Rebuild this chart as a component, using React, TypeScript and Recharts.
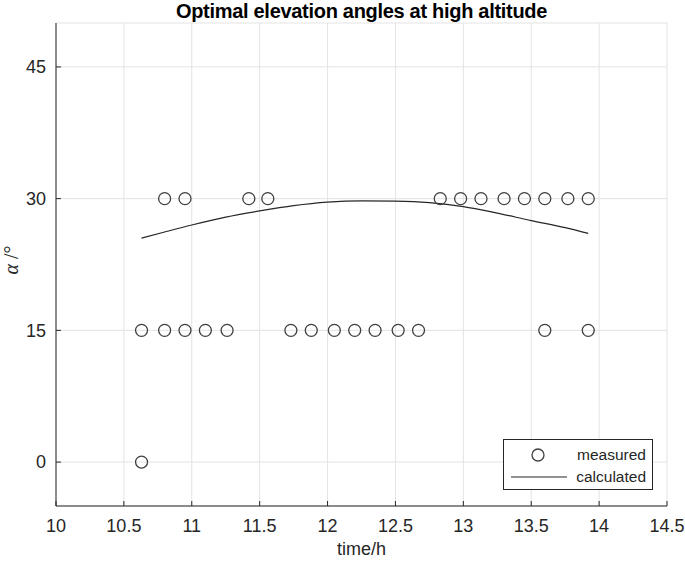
import React from 'react';
import {
  ComposedChart,
  Scatter,
  Line,
  XAxis,
  YAxis,
  CartesianGrid
} from 'recharts';

// measured optimal angles, grouped by angle level (time in hours)
const times30 = [10.8, 10.95, 11.42, 11.56, 12.83, 12.98, 13.13, 13.3, 13.45, 13.6, 13.77, 13.92];
const times15 = [10.63, 10.8, 10.95, 11.1, 11.26, 11.73, 11.88, 12.05, 12.2, 12.35, 12.52, 12.67, 13.6, 13.92];
const times0 = [10.63];

// calculated curve
const calcTimes = [10.63, 10.8, 11.0, 11.25, 11.5, 11.75, 12.0, 12.25, 12.5, 12.75, 13.0, 13.25, 13.5, 13.75, 13.92];
const calcAngles = [25.5, 26.2, 27.0, 27.9, 28.6, 29.2, 29.6, 29.75, 29.72, 29.55, 29.1, 28.35, 27.5, 26.7, 26.05];

const xTicks = [10, 10.5, 11, 11.5, 12, 12.5, 13, 13.5, 14, 14.5];
const yTicks = [0, 15, 30, 45];

const measured = [
  ...times0.map(x => ({ x, y: 0 })),
  ...times15.map(x => ({ x, y: 15 })),
  ...times30.map(x => ({ x, y: 30 }))
];
const calculated = calcTimes.map((x, i) => ({ x, y: calcAngles[i] }));

const INK = '#262626';
const FONT = '"Liberation Sans", Arial, sans-serif';

const Ring = (props: any) => {
  const { cx, cy } = props;
  if (cx == null || cy == null) return <g />;
  return <circle cx={cx} cy={cy} r={6} fill="none" stroke="#404040" strokeWidth={1.3} />;
};

// legend drawn as a plain box in the lower right corner of the axes
const LegendBox = () => (
  <div
    style={{
      position: 'absolute',
      left: 503,
      top: 439,
      width: 148,
      height: 49,
      border: `1px solid ${INK}`,
      background: '#fff'
    }}
  >
    <svg width={148} height={49} style={{ position: 'absolute', left: 0, top: 0 }}>
      <circle cx={34} cy={15} r={6} fill="none" stroke="#404040" strokeWidth={1.3} />
      <line x1={7} y1={37} x2={63} y2={37} stroke={INK} strokeWidth={1.2} />
      <text x={142} y={20} textAnchor="end" fill={INK} fontSize={15.5} fontFamily={FONT}>measured</text>
      <text x={142} y={42} textAnchor="end" fill={INK} fontSize={15.5} fontFamily={FONT}>calculated</text>
    </svg>
  </div>
);

export default function App() {
  return (
    <div style={{ position: 'absolute', left: 0, top: 0, width: 685, height: 561, background: '#fff', fontFamily: FONT }}>
      <ComposedChart
        width={685}
        height={561}
        margin={{ top: 23, right: 18, left: 10, bottom: 15 }}
      >
        <CartesianGrid stroke="#e3e3e3" strokeWidth={1} />
        <XAxis
          type="number"
          dataKey="x"
          domain={[10, 14.5]}
          ticks={xTicks}
          allowDataOverflow
          height={40}
          tickSize={-5}
          tickMargin={18}
          axisLine={{ stroke: INK, strokeWidth: 1 }}
          tickLine={{ stroke: INK }}
          tick={{ fill: INK, fontSize: 18, fontFamily: FONT }}
        />
        <YAxis
          type="number"
          dataKey="y"
          domain={[-5, 50]}
          ticks={yTicks}
          allowDataOverflow
          width={46}
          tickSize={-5}
          tickMargin={15}
          axisLine={{ stroke: INK, strokeWidth: 1 }}
          tickLine={{ stroke: INK }}
          tick={{ fill: INK, fontSize: 18, fontFamily: FONT }}
        />
        <Scatter name="measured" data={measured} shape={Ring} isAnimationActive={false} />
        <Line
          name="calculated"
          data={calculated}
          dataKey="y"
          type="monotone"
          stroke={INK}
          strokeWidth={1.2}
          dot={false}
          activeDot={false}
          isAnimationActive={false}
        />
      </ComposedChart>
      <div
        style={{
          position: 'absolute',
          left: 0,
          width: 723,
          top: 0,
          textAlign: 'center',
          fontWeight: 'bold',
          fontSize: 20,
          letterSpacing: -0.3,
          color: '#000'
        }}
      >
        Optimal elevation angles at high altitude
      </div>
      <div
        style={{
          position: 'absolute',
          left: 11,
          top: 260,
          transform: 'translate(-50%, -50%) rotate(-90deg)',
          fontFamily: '"Liberation Serif", serif',
          fontSize: 20,
          color: INK,
          whiteSpace: 'nowrap'
        }}
      >
        <i>α</i> /°
      </div>
      <div
        style={{
          position: 'absolute',
          left: 0,
          width: 723,
          top: 539,
          textAlign: 'center',
          fontSize: 18,
          color: INK
        }}
      >
        time/h
      </div>
      <LegendBox />
    </div>
  );
}
